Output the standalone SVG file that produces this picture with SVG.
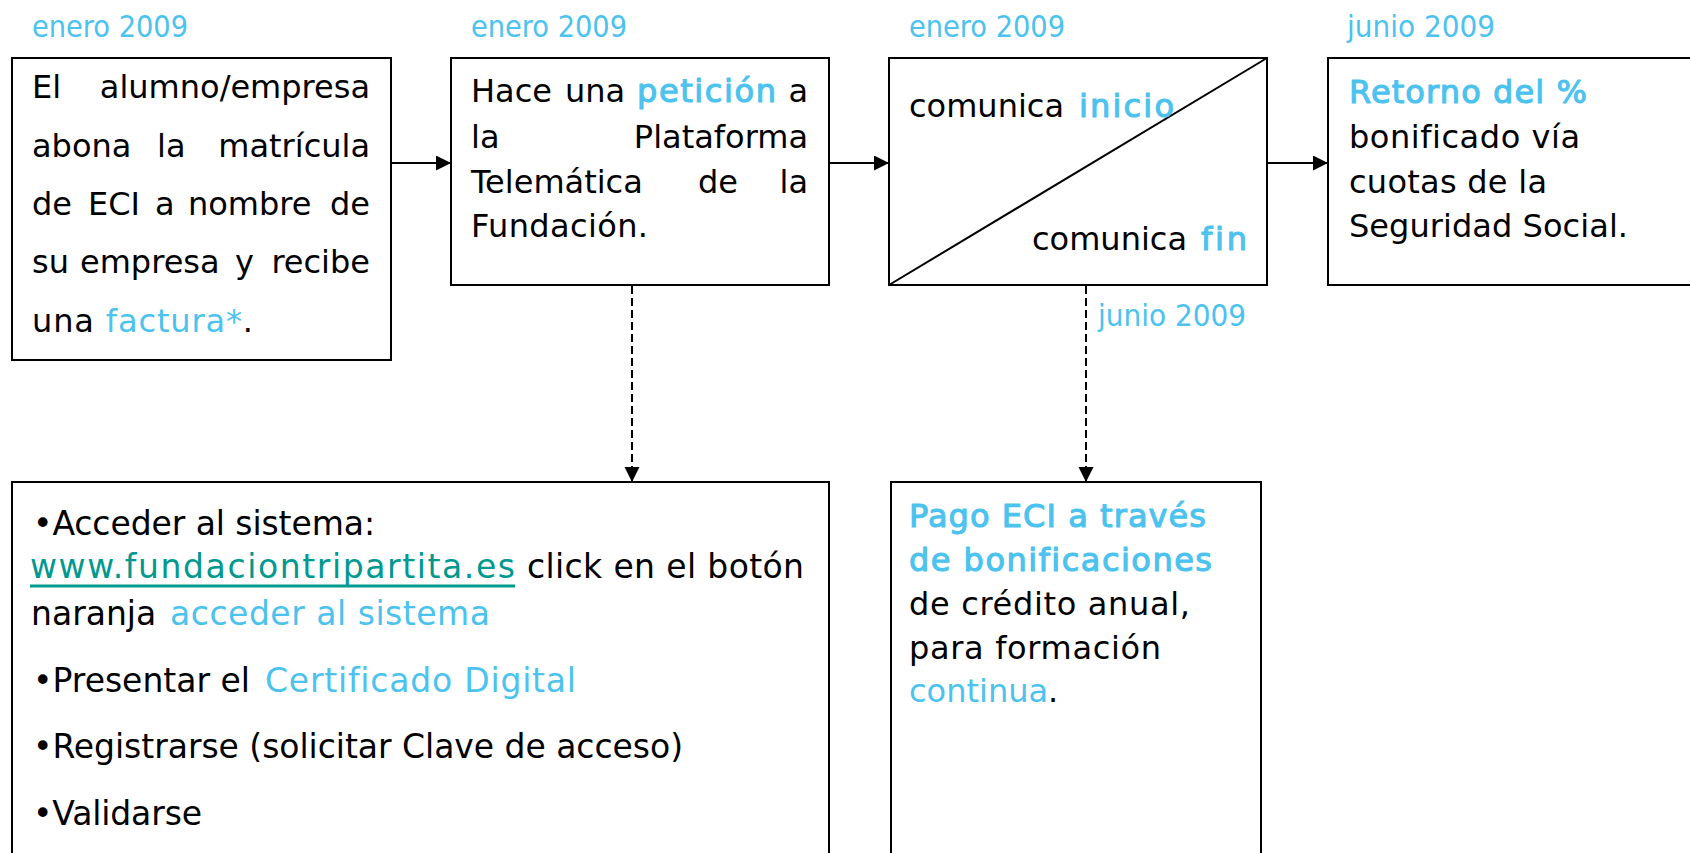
<svg xmlns="http://www.w3.org/2000/svg" width="1690" height="853" viewBox="0 0 1690 853">
<style>
.box{fill:#fff;stroke:#000;stroke-width:2}
.t{font-family:"DejaVu Sans","Liberation Sans",sans-serif;font-size:32px;fill:#000;font-variant-ligatures:none}
.s{font-size:33px}
.lab{font-family:"DejaVu Sans","Liberation Sans",sans-serif;font-size:30px;fill:#4cc2ee}
.bl{fill:#4cc2ee}
.bd{stroke:#4cc2ee;stroke-width:1.1px;stroke-linejoin:round}
.tl{fill:#00998f}
.e{text-anchor:end}
.con{stroke:#000;stroke-width:2;fill:none}
.dash{stroke-dasharray:8 4}
</style>
<defs>
<marker id="ah" markerUnits="userSpaceOnUse" markerWidth="16" markerHeight="16" refX="15" refY="7.5" orient="auto">
<path d="M0,0 L15,7.5 L0,15 z" fill="#000"/>
</marker>
</defs>
<rect width="1690" height="853" fill="#fff"/>

<g id="n1">
<text class="lab" x="32" y="37" textLength="156" lengthAdjust="spacingAndGlyphs">enero 2009</text>
<rect class="box" x="12" y="58" width="379" height="302"/>
<text class="t" x="32" y="98">El</text>
<text class="t e" x="370" y="98">alumno/empresa</text>
<text class="t" x="32" y="157">abona</text>
<text class="t" x="157" y="157">la</text>
<text class="t e" x="370" y="157">matrícula</text>
<text class="t" x="32" y="215">de</text>
<text class="t" x="88" y="215">ECI</text>
<text class="t" x="155" y="215">a</text>
<text class="t" x="188" y="215">nombre</text>
<text class="t e" x="370" y="215">de</text>
<text class="t" x="32" y="273">su</text>
<text class="t" x="80" y="273">empresa</text>
<text class="t" x="235" y="273">y</text>
<text class="t e" x="370" y="273">recibe</text>
<text class="t" x="32" y="332" textLength="221">una <tspan class="bl">factura*</tspan>.</text>
</g>

<g id="n2">
<text class="lab" x="471" y="37" textLength="156" lengthAdjust="spacingAndGlyphs">enero 2009</text>
<rect class="box" x="451" y="58" width="378" height="227"/>
<text class="t" x="471" y="102">Hace</text>
<text class="t" x="565" y="102">una</text>
<text class="t bl bd" x="637" y="102" textLength="139">petición</text>
<text class="t e" x="808" y="102">a</text>
<text class="t" x="471" y="148">la</text>
<text class="t e" x="808" y="148">Plataforma</text>
<text class="t" x="471" y="193">Telemática</text>
<text class="t" x="698" y="193">de</text>
<text class="t e" x="808" y="193">la</text>
<text class="t" x="471" y="237" textLength="177">Fundación.</text>
</g>

<g id="n3">
<text class="lab" x="909" y="37" textLength="156" lengthAdjust="spacingAndGlyphs">enero 2009</text>
<rect class="box" x="889" y="58" width="378" height="227"/>
<line x1="889" y1="285" x2="1267" y2="58" stroke="#000" stroke-width="2"/>
<text class="t" x="909" y="117">comunica</text>
<text class="t bl bd" x="1079" y="117" textLength="95">inicio</text>
<text class="t" x="1032" y="250">comunica</text>
<text class="t bl bd" x="1201" y="250" textLength="46">fin</text>
</g>

<g id="n4">
<text class="lab" x="1347" y="37" textLength="148" lengthAdjust="spacingAndGlyphs">junio 2009</text>
<rect class="box" x="1328" y="58" width="380" height="227"/>
<text class="t bl bd" x="1349" y="103" textLength="238">Retorno del %</text>
<text class="t" x="1349" y="148" textLength="231">bonificado vía</text>
<text class="t" x="1349" y="193" textLength="198">cuotas de la</text>
<text class="t" x="1349" y="237" textLength="279">Seguridad Social.</text>
</g>

<g id="n5">
<rect class="box" x="12" y="482" width="817" height="400"/>
<text class="t s" x="33" y="535" textLength="342">•Acceder al sistema:</text>
<text class="t s tl" x="30" y="578" textLength="485">www.fundaciontripartita.es</text>
<line x1="30" y1="586" x2="515" y2="586" stroke="#00998f" stroke-width="3"/>
<text class="t s" x="527" y="578" textLength="277">click en el botón</text>
<text class="t s" x="31" y="625">naranja</text>
<text class="t s bl" x="170" y="625" textLength="320">acceder al sistema</text>
<text class="t s" x="33" y="692">•Presentar el</text>
<text class="t s bl" x="265" y="692" textLength="311">Certificado Digital</text>
<text class="t s" x="33" y="758" textLength="650">•Registrarse (solicitar Clave de acceso)</text>
<text class="t s" x="33" y="825" textLength="169">•Validarse</text>
</g>

<g id="n6">
<rect class="box" x="891" y="482" width="370" height="400"/>
<text class="t bl bd" x="909" y="527" textLength="297">Pago ECI a través</text>
<text class="t bl bd" x="909" y="571" textLength="303">de bonificaciones</text>
<text class="t" x="909" y="615" textLength="281">de crédito anual,</text>
<text class="t" x="909" y="659" textLength="252">para formación</text>
<text class="t" x="909" y="702"><tspan class="bl">continua</tspan>.</text>
</g>

<g id="connectors">
<line class="con" x1="391" y1="163" x2="451" y2="163" marker-end="url(#ah)"/>
<line class="con" x1="829" y1="163" x2="889" y2="163" marker-end="url(#ah)"/>
<line class="con" x1="1267" y1="163" x2="1328" y2="163" marker-end="url(#ah)"/>
<line class="con dash" x1="632" y1="286" x2="632" y2="482" marker-end="url(#ah)"/>
<line class="con dash" x1="1086" y1="286" x2="1086" y2="482" marker-end="url(#ah)"/>
<text class="lab" x="1098" y="326" textLength="148" lengthAdjust="spacingAndGlyphs">junio 2009</text>
</g>
</svg>
